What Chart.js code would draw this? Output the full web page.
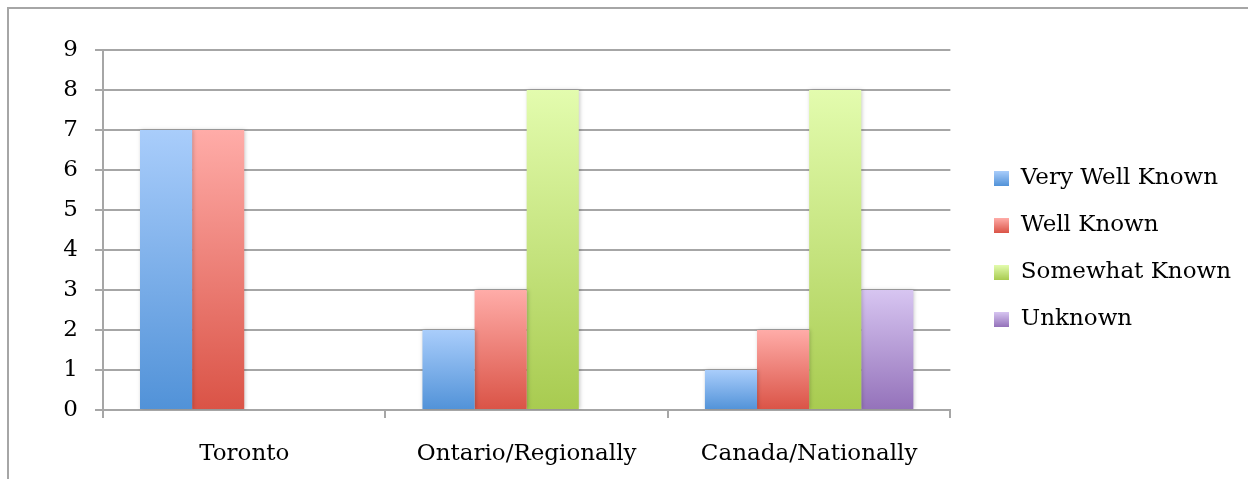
<!DOCTYPE html>
<html>
<head>
<meta charset="utf-8">
<script src="https://cdn.jsdelivr.net/npm/chart.js@4.4.1/dist/chart.umd.min.js"></script>
<style>
  html, body { margin: 0; padding: 0; background: #fff; overflow: hidden; }
  #wrap { position: relative; width: 1248px; height: 479px; }
  #frame { position: absolute; left: 7px; top: 7px; width: 1300px; height: 520px; border: 2px solid #a6a6a6; box-sizing: border-box; }
  canvas { position: absolute; left: 0; top: 0; }
</style>
</head>
<body>
<div id="wrap">
  <div id="frame"></div>
  <canvas id="myChart" width="1248" height="479"></canvas>
</div>
<script>
const categories = ["Toronto", "Ontario/Regionally", "Canada/Nationally"];
const seriesNames = ["Very Well Known", "Well Known", "Somewhat Known", "Unknown"];
const veryWellKnown = [7, 2, 1];
const wellKnown = [7, 3, 2];
const somewhatKnown = [0, 8, 8];
const unknown = [0, 0, 3];
const yTicks = [0, 1, 2, 3, 4, 5, 6, 7, 8, 9];

// light top / dark bottom, like the office gradient fill
const shades = [
  ["#a9cdfb", "#5192d8"],
  ["#ffaca8", "#da5346"],
  ["#e3fcae", "#a8cb50"],
  ["#d7c5f1", "#9472ba"]
];
const fontFam = "'DejaVu Serif', 'Liberation Serif', serif";
const gridColor = "#a6a6a6";

function barFill(i){
  return function(context){
    const chart = context.chart;
    const area = chart.chartArea;
    if(!area || context.parsed == null) return shades[i][1];
    const y = chart.scales.y;
    const top = y.getPixelForValue(context.parsed.y);
    const bottom = y.getPixelForValue(0);
    if(bottom - top < 1) return shades[i][1];
    const g = chart.ctx.createLinearGradient(0, top, 0, bottom);
    g.addColorStop(0, shades[i][0]);
    g.addColorStop(1, shades[i][1]);
    return g;
  };
}

// little gradient squares for the legend
function legendSwatch(i){
  const c = document.createElement('canvas');
  c.width = 15; c.height = 15;
  const cx = c.getContext('2d');
  const g = cx.createLinearGradient(0, 0, 0, 15);
  g.addColorStop(0, shades[i][0]);
  g.addColorStop(1, shades[i][1]);
  cx.fillStyle = g;
  cx.fillRect(0, 0, 15, 15);
  return c;
}

const allValues = [veryWellKnown, wellKnown, somewhatKnown, unknown];

const shadowPlugin = {
  id: 'barShadow',
  beforeDatasetsDraw(chart){
    const ctx = chart.ctx;
    ctx.save();
    ctx.shadowColor = 'rgba(0,0,0,0.22)';
    ctx.shadowBlur = 4;
    ctx.shadowOffsetX = 1;
    ctx.shadowOffsetY = 0;
  },
  afterDatasetsDraw(chart){
    chart.ctx.restore();
  }
};

// push the legend block a bit further from the plot
const legendShift = {
  id: 'legendShift',
  afterLayout(chart){
    if(!chart.legend) return;
    chart.legend.left += 20;
    chart.legend.right += 20;
  }
};

const ctx = document.getElementById('myChart').getContext('2d');
const chart = new Chart(ctx, {
  type: 'bar',
  data: {
    labels: categories,
    datasets: seriesNames.map((name, i) => ({
      label: name,
      data: allValues[i],
      backgroundColor: barFill(i),
      borderWidth: 0,
      barPercentage: 1,
      categoryPercentage: 0.738,
      pointStyle: legendSwatch(i)
    }))
  },
  options: {
    responsive: false,
    animation: false,
    devicePixelRatio: 1,
    layout: { padding: { top: 50, right: 27, left: 0, bottom: 0 } },
    scales: {
      x: {
        offset: true,
        grid: {
          offset: true,
          drawOnChartArea: false,
          drawTicks: true,
          tickLength: 8,
          color: gridColor,
          lineWidth: 2
        },
        border: { color: gridColor, width: 2 },
        ticks: {
          color: '#000',
          padding: 22,
          font: { family: fontFam, size: 23 }
        },
        afterFit(scale){ scale.height = 69; }
      },
      y: {
        min: 0,
        max: 9,
        afterBuildTicks(scale){ scale.ticks = yTicks.map(v => ({ value: v })); },
        grid: {
          color: gridColor,
          lineWidth: 2,
          drawTicks: true,
          tickLength: 8
        },
        border: { color: gridColor, width: 2 },
        ticks: {
          color: '#000',
          padding: 17,
          font: { family: fontFam, size: 23 }
        },
        afterFit(scale){ scale.width = 103; }
      }
    },
    plugins: {
      legend: {
        position: 'right',
        align: 'start',
        // empty title only used as a spacer to push items down
        title: { display: true, text: '', font: { size: 10 }, padding: { top: 0, bottom: 81 } },
        labels: {
          usePointStyle: true,
          boxWidth: 15,
          boxHeight: 15,
          padding: 24,
          color: '#000',
          font: { family: fontFam, size: 23 }
        }
      },
      tooltip: { enabled: false }
    }
  },
  plugins: [shadowPlugin, legendShift]
});
</script>
</body>
</html>
